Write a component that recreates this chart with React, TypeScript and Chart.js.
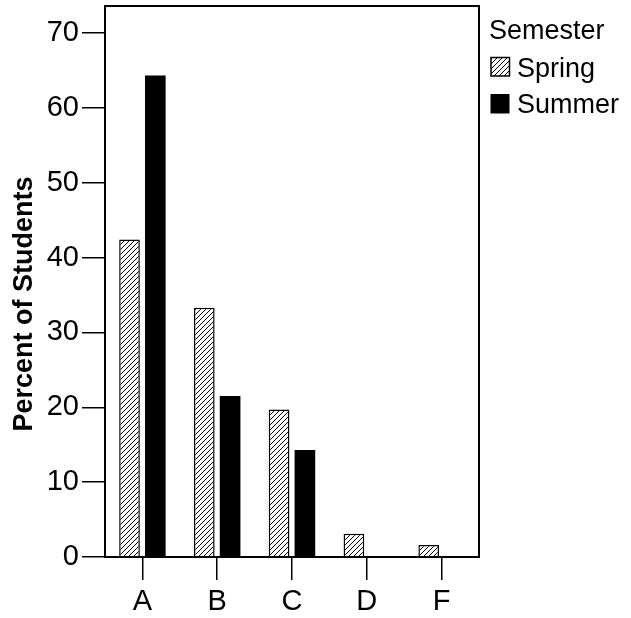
import React, { useEffect, useRef } from 'react';
import { Chart, registerables } from 'chart.js';

Chart.register(...registerables);

const categories = ['A', 'B', 'C', 'D', 'F'];
const springValues = [42.4, 33.3, 19.7, 3.1, 1.6];
const summerValues = [64.3, 21.5, 14.3, 0, 0];
const yTicks = [0, 10, 20, 30, 40, 50, 60, 70];
const seriesNames = ['Spring', 'Summer'];
const legendTitle = 'Semester';
const yTitle = 'Percent of Students';

const FAMILY = '"Liberation Sans", Arial, Helvetica, sans-serif';

function makeHatch(): CanvasPattern | string {
  const c = document.createElement('canvas');
  const s = 5;
  c.width = s;
  c.height = s;
  const g = c.getContext('2d');
  if (!g) return '#fff';
  g.fillStyle = '#fff';
  g.fillRect(0, 0, s, s);
  g.strokeStyle = '#000';
  g.lineWidth = 1;
  g.beginPath();
  g.moveTo(0, s);
  g.lineTo(s, 0);
  g.moveTo(-1, 1);
  g.lineTo(1, -1);
  g.moveTo(s - 1, s + 1);
  g.lineTo(s + 1, s - 1);
  g.stroke();
  const p = g.createPattern(c, 'repeat');
  return p || '#fff';
}

export default function App() {
  const ref = useRef<HTMLCanvasElement | null>(null);

  useEffect(() => {
    const canvas = ref.current;
    if (!canvas) return;
    const hatch = makeHatch();

    const decor = {
      id: 'decor',
      afterDatasetsDraw(chart: any) {
        const { ctx, chartArea } = chart;
        ctx.save();
        ctx.strokeStyle = '#000';
        ctx.lineWidth = 2;
        ctx.strokeRect(chartArea.left, chartArea.top, chartArea.right - chartArea.left, chartArea.bottom - chartArea.top);
        ctx.restore();
      },
      afterDraw(chart: any) {
        const { ctx } = chart;
        ctx.save();
        // y axis title
        ctx.translate(25, 304);
        ctx.rotate(-Math.PI / 2);
        ctx.font = `bold 27px ${FAMILY}`;
        ctx.fillStyle = '#000';
        ctx.textAlign = 'center';
        ctx.textBaseline = 'middle';
        ctx.fillText(yTitle, 0, 0);
        ctx.restore();

        // legend
        ctx.save();
        ctx.fillStyle = '#000';
        ctx.font = `27px ${FAMILY}`;
        ctx.textAlign = 'left';
        ctx.textBaseline = 'alphabetic';
        ctx.fillText(legendTitle, 489, 39);
        // spring swatch
        ctx.fillStyle = hatch as any;
        ctx.fillRect(491, 57.5, 18.5, 18.5);
        ctx.strokeStyle = '#000';
        ctx.lineWidth = 1.5;
        ctx.strokeRect(491, 57.5, 18.5, 18.5);
        ctx.fillStyle = '#000';
        ctx.fillText(seriesNames[0], 517, 76.5);
        // summer swatch
        ctx.fillRect(490.5, 94, 19, 19.5);
        ctx.fillText(seriesNames[1], 517, 113);
        ctx.restore();
      },
    };

    const chart = new Chart(canvas, {
      type: 'bar',
      data: {
        labels: categories,
        datasets: [
          {
            label: seriesNames[0],
            data: springValues,
            backgroundColor: hatch as any,
            borderColor: '#000',
            borderWidth: 1.5,
            categoryPercentage: 0.69,
            barPercentage: 0.8,
          },
          {
            label: seriesNames[1],
            data: summerValues,
            backgroundColor: '#000',
            borderColor: '#000',
            borderWidth: 0,
            categoryPercentage: 0.69,
            barPercentage: 0.8,
          },
        ],
      },
      options: {
        responsive: false,
        animation: false,
        layout: { padding: { top: 6, right: 152, left: 0, bottom: 0 } },
        plugins: {
          legend: { display: false },
          tooltip: { enabled: false },
        },
        scales: {
          x: {
            afterFit: (s: any) => {
              s.height = 61;
              s.paddingLeft = 0;
              s.paddingRight = 0;
            },
            grid: {
              offset: false,
              drawOnChartArea: false,
              drawTicks: true,
              tickLength: 23,
              color: '#000',
              lineWidth: 1.5,
            },
            border: { display: false },
            ticks: {
              font: { size: 29, family: FAMILY },
              color: '#000',
              padding: 5,
              maxRotation: 0,
              autoSkip: false,
            },
          },
          y: {
            min: 0,
            max: 73.6,
            afterBuildTicks: (s: any) => {
              s.ticks = yTicks.map((v) => ({ value: v }));
            },
            afterFit: (s: any) => {
              s.width = 105;
              s.paddingTop = 0;
              s.paddingBottom = 0;
            },
            grid: {
              drawOnChartArea: false,
              drawTicks: true,
              tickLength: 23,
              color: '#000',
              lineWidth: 1.5,
            },
            border: { display: false },
            ticks: {
              font: { size: 29, family: FAMILY },
              color: '#000',
              padding: 3,
            },
          },
        },
      },
      plugins: [decor],
    });

    return () => chart.destroy();
  }, []);

  return (
    <div style={{ position: 'absolute', left: 0, top: 0, width: 631, height: 618, background: '#fff' }}>
      <canvas ref={ref} width={631} height={618} style={{ display: 'block' }} />
    </div>
  );
}
